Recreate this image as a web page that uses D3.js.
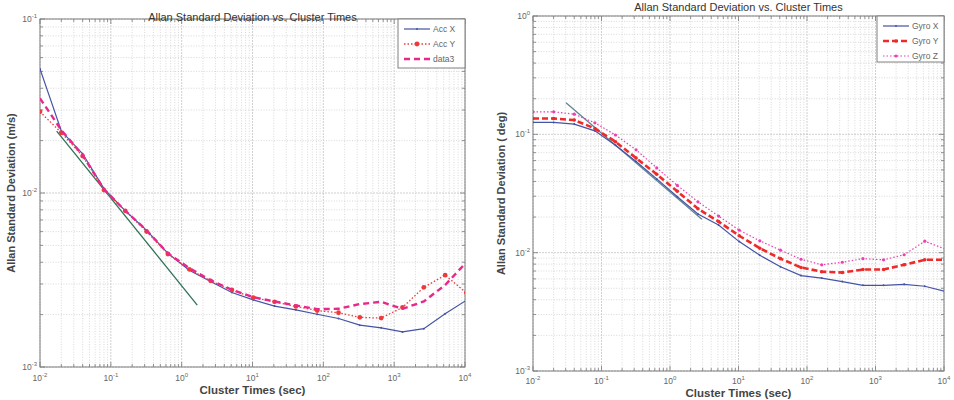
<!DOCTYPE html>
<html><head><meta charset="utf-8">
<script src="https://cdn.jsdelivr.net/npm/d3@7"></script>
<style>body{margin:0;background:#fff} svg{display:block} text{font-family:Arial,"Liberation Sans",sans-serif}</style>
</head><body><svg id="c" width="954" height="400"></svg>
<script>
// ---- data ----
const clusterTimes = [0.01,0.02,0.04,0.08,0.16,0.32,0.64,1.28,2.56,5.12,10.24,20.48,40.96,81.92,163.84,327.68,655.36,1310.72,2621.44,5242.88,10485.76];
const accX  = [0.0516,0.0227,0.0168,0.0106,0.0079,0.0061,0.0045,0.0036,0.0031,0.00268,0.00243,0.00224,0.00213,0.00201,0.0019,0.00174,0.00168,0.00159,0.00166,0.00202,0.00242];
const accY  = [0.0293,0.0222,0.0163,0.0104,0.0079,0.0060,0.00446,0.00364,0.00313,0.00277,0.0025,0.00237,0.00223,0.00211,0.00205,0.00193,0.00191,0.0022,0.00287,0.00337,0.00267];
const data3 = [0.035,0.023,0.0165,0.0105,0.0079,0.0061,0.0045,0.0037,0.00315,0.00278,0.00252,0.00238,0.00226,0.00215,0.00216,0.0023,0.00237,0.00216,0.00238,0.00296,0.004];
const accFitX = [0.0172, 1.66];
const accFitY = [0.0227, 0.00227];

const gyroX = [0.126,0.126,0.122,0.107,0.081,0.059,0.042,0.0297,0.0212,0.0171,0.0124,0.0095,0.0076,0.0064,0.0061,0.0057,0.0053,0.0053,0.0054,0.0052,0.0047];
const gyroY = [0.136,0.136,0.132,0.112,0.0866,0.063,0.046,0.033,0.0235,0.0183,0.0139,0.0109,0.0089,0.0075,0.0069,0.0068,0.0072,0.0072,0.0079,0.0087,0.0087];
const gyroZ = [0.155,0.155,0.148,0.125,0.0987,0.074,0.052,0.037,0.0269,0.0204,0.0155,0.0126,0.0105,0.0088,0.0079,0.0083,0.0089,0.0087,0.0096,0.0125,0.0107];
const gyroFitX = [0.0303, 2.92];
const gyroFitY = [0.185, 0.0192];

const xTickExps = [-2,-1,0,1,2,3,4];
const accYTickExps = [-3,-2,-1];
const gyroYTickExps = [-3,-2,-1,0];
const titleText = "Allan Standard Deviation vs. Cluster Times";
const xLabelText = "Cluster Times (sec)";

// ---- drawing ----
const svg = d3.select("#c");

function zipXY(xs, ys){ return xs.map((v,i)=>[v, ys[i]]); }

function drawPanel(cfg, idx){
  const x = d3.scaleLog().domain([Math.pow(10,cfg.xExps[0]), Math.pow(10,cfg.xExps[cfg.xExps.length-1])]).range([cfg.x0, cfg.x1]);
  const y = d3.scaleLog().domain([Math.pow(10,cfg.yExps[0]), Math.pow(10,cfg.yExps[cfg.yExps.length-1])]).range([cfg.y1, cfg.y0]);
  const g = svg.append("g");
  const clipId = "clip"+idx;
  g.append("clipPath").attr("id", clipId).append("rect")
    .attr("x", cfg.x0).attr("y", cfg.y0).attr("width", cfg.x1-cfg.x0).attr("height", cfg.y1-cfg.y0);

  // grid values
  function gridVals(exps){
    const out = [];
    for (let i=0;i<exps.length;i++){
      const e = exps[i];
      out.push({v:Math.pow(10,e), major:true});
      if (i<exps.length-1) for (let m=2;m<=9;m++) out.push({v:m*Math.pow(10,e), major:false});
    }
    return out;
  }
  const gx = gridVals(cfg.xExps), gy = gridVals(cfg.yExps);
  const grid = g.append("g");
  grid.selectAll("line.vx").data(gx).join("line")
    .attr("x1", d=>x(d.v)).attr("x2", d=>x(d.v)).attr("y1", cfg.y0).attr("y2", cfg.y1)
    .attr("stroke", d=>d.major?"#c4c4c4":"#cfcfcf").attr("stroke-width", 0.8)
    .attr("stroke-dasharray", d=>d.major?"2,1":"1,1.6");
  grid.selectAll("line.hy").data(gy).join("line")
    .attr("y1", d=>y(d.v)).attr("y2", d=>y(d.v)).attr("x1", cfg.x0).attr("x2", cfg.x1)
    .attr("stroke", d=>d.major?"#c4c4c4":"#cfcfcf").attr("stroke-width", 0.8)
    .attr("stroke-dasharray", d=>d.major?"2,1":"1,1.6");

  // ticks (inward, all sides)
  const tk = g.append("g").attr("stroke", "#777").attr("stroke-width", 0.8);
  gx.forEach(d=>{
    const L = d.major?5:3, px = x(d.v);
    tk.append("line").attr("x1",px).attr("x2",px).attr("y1",cfg.y1).attr("y2",cfg.y1-L);
    tk.append("line").attr("x1",px).attr("x2",px).attr("y1",cfg.y0).attr("y2",cfg.y0+L);
  });
  gy.forEach(d=>{
    const L = d.major?5:3, py = y(d.v);
    tk.append("line").attr("y1",py).attr("y2",py).attr("x1",cfg.x0).attr("x2",cfg.x0+L);
    tk.append("line").attr("y1",py).attr("y2",py).attr("x1",cfg.x1).attr("x2",cfg.x1-L);
  });

  // box
  g.append("rect").attr("x", cfg.x0).attr("y", cfg.y0).attr("width", cfg.x1-cfg.x0).attr("height", cfg.y1-cfg.y0)
    .attr("fill","none").attr("stroke","#808080").attr("stroke-width",1);

  // tick labels
  function powLabel(sel, e){
    sel.append("tspan").text("10");
    sel.append("tspan").attr("dy", -4).attr("font-size", 6).text(String(e));
  }
  cfg.xExps.forEach(e=>{
    const t = g.append("text").attr("x", x(Math.pow(10,e))).attr("y", cfg.tickY)
      .attr("text-anchor","middle").attr("font-size", 8.5).attr("fill","#666");
    powLabel(t, e);
  });
  cfg.yExps.forEach(e=>{
    const t = g.append("text").attr("x", cfg.x0-3).attr("y", y(Math.pow(10,e))+3)
      .attr("text-anchor","end").attr("font-size", 8.5).attr("fill","#666");
    powLabel(t, e);
  });

  // labels
  g.append("text").attr("x", (cfg.x0+cfg.x1)/2).attr("y", cfg.titleY).attr("text-anchor","middle")
    .attr("font-size", 11).attr("fill","#333").text(titleText);
  g.append("text").attr("x", (cfg.x0+cfg.x1)/2).attr("y", cfg.xlabelY).attr("text-anchor","middle")
    .attr("font-size", 11.5).attr("font-weight","bold").attr("fill","#444").text(xLabelText);
  g.append("text").attr("transform", `translate(${cfg.ylabelX},${(cfg.y0+cfg.y1)/2}) rotate(-90)`)
    .attr("text-anchor","middle").attr("font-size", 11).attr("font-weight","bold").attr("fill","#444").text(cfg.ylabel);

  // series
  const plot = g.append("g").attr("clip-path", `url(#${clipId})`);
  const line = d3.line().x(d=>x(d[0])).y(d=>y(d[1]));
  // fit line
  plot.append("path").attr("d", line(zipXY(cfg.fit[0], cfg.fit[1])))
    .attr("fill","none").attr("stroke", cfg.fitColor).attr("stroke-width", 1.3);
  cfg.series.forEach(s=>{
    const pts = zipXY(clusterTimes, s.values);
    plot.append("path").attr("d", line(pts)).attr("fill","none")
      .attr("stroke", s.color).attr("stroke-width", s.width).attr("stroke-dasharray", s.dash||null);
    if (s.marker) plot.selectAll(null).data(pts).join("circle")
      .attr("cx", d=>x(d[0])).attr("cy", d=>y(d[1])).attr("r", s.marker).attr("fill", s.color);
  });

  // legend
  const lg = g.append("g");
  lg.append("rect").attr("x", cfg.legend.x).attr("y", cfg.legend.y).attr("width", cfg.legend.w).attr("height", cfg.legend.h)
    .attr("fill","#fff").attr("stroke","#808080").attr("stroke-width",1);
  cfg.series.forEach((s,i)=>{
    const yy = cfg.legend.y + 10 + i*cfg.legend.step;
    const lx0 = cfg.legend.x+6, lx1 = cfg.legend.x+32;
    lg.append("line").attr("x1",lx0).attr("x2",lx1).attr("y1",yy).attr("y2",yy)
      .attr("stroke", s.color).attr("stroke-width", s.width).attr("stroke-dasharray", s.dash||null);
    if (s.marker) lg.append("circle").attr("cx",(lx0+lx1)/2).attr("cy",yy).attr("r",s.marker).attr("fill",s.color);
    lg.append("text").attr("x", lx1+3).attr("y", yy+3).attr("font-size", 8.5).attr("fill","#666").text(s.name);
  });
}

drawPanel({
  x0:40, x1:465, y0:19, y1:367, xExps:xTickExps, yExps:accYTickExps,
  titleY:21, tickY:381, xlabelY:394, ylabelX:15, ylabel:"Allan Standard Deviation (m/s)",
  fit:[accFitX, accFitY], fitColor:"#2f7356",
  legend:{x:398, y:19, w:67, h:49, step:15},
  series:[
    {name:"Acc X", values:accX, color:"#4553a6", width:1.2, marker:1},
    {name:"Acc Y", values:accY, color:"#ee3a3a", width:1.3, dash:"1.5,2", marker:2.4},
    {name:"data3", values:data3, color:"#e8288a", width:2.4, dash:"6,4"}
  ]
}, 0);

drawPanel({
  x0:533, x1:944, y0:16, y1:371, xExps:xTickExps, yExps:gyroYTickExps,
  titleY:11, tickY:384, xlabelY:397, ylabelX:505, ylabel:"Allan Standard Deviation ( deg)",
  fit:[gyroFitX, gyroFitY], fitColor:"#5f8592",
  legend:{x:877, y:16, w:67, h:46, step:15},
  series:[
    {name:"Gyro X", values:gyroX, color:"#4553a6", width:1.2, marker:1},
    {name:"Gyro Y", values:gyroY, color:"#ee2a2a", width:2.6, dash:"6,3", marker:1.8},
    {name:"Gyro Z", values:gyroZ, color:"#ec3fb3", width:1.2, dash:"1.5,2", marker:1.6}
  ]
}, 1);
</script></body></html>
